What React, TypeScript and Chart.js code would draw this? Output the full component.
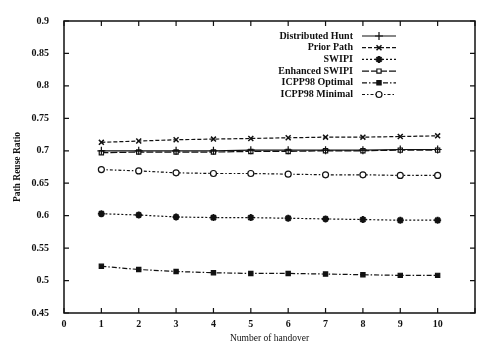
import React, { useEffect, useRef } from 'react';
import { Chart, registerables } from 'chart.js';
import { drawPoint } from 'chart.js/helpers';

Chart.register(...registerables);

const handovers = [1, 2, 3, 4, 5, 6, 7, 8, 9, 10];
const seriesLabels = ['Distributed Hunt', 'Prior Path', 'SWIPI', 'Enhanced SWIPI', 'ICPP98 Optimal', 'ICPP98 Minimal'];
const distributedHunt = [0.700, 0.700, 0.700, 0.700, 0.701, 0.701, 0.701, 0.701, 0.702, 0.702];
const priorPath = [0.713, 0.715, 0.717, 0.718, 0.719, 0.720, 0.721, 0.721, 0.722, 0.723];
const swipi = [0.603, 0.601, 0.598, 0.597, 0.597, 0.596, 0.595, 0.594, 0.593, 0.593];
const enhancedSwipi = [0.697, 0.698, 0.698, 0.698, 0.699, 0.699, 0.700, 0.700, 0.701, 0.701];
const icppOptimal = [0.522, 0.517, 0.514, 0.512, 0.511, 0.511, 0.510, 0.509, 0.508, 0.508];
const icppMinimal = [0.671, 0.669, 0.666, 0.665, 0.665, 0.664, 0.663, 0.663, 0.662, 0.662];
const xTitle = 'Number of handover';
const yTitle = 'Path Reuse Ratio';

const FONT = '"Liberation Serif", "DejaVu Serif", serif';
const INK = '#111';

const styles = [
  { pointStyle: 'cross', dash: [], fill: INK, radius: 4, bw: 1.2 },
  { pointStyle: 'crossRot', dash: [4, 2], fill: INK, radius: 3.5, bw: 1.5 },
  { pointStyle: 'star', dash: [2, 2], fill: INK, radius: 3.5, bw: 2 },
  { pointStyle: 'rect', dash: [7, 2], fill: '#fff', radius: 3, bw: 1.2 },
  { pointStyle: 'rect', dash: [5, 2, 1.5, 2], fill: INK, radius: 3, bw: 1.2 },
  { pointStyle: 'circle', dash: [3, 2, 1.5, 2], fill: '#fff', radius: 3, bw: 1.2 },
];
const seriesValues = [distributedHunt, priorPath, swipi, enhancedSwipi, icppOptimal, icppMinimal];

const framePlugin = {
  id: 'frame',
  afterDraw(chart: any) {
    const { ctx, chartArea: a, scales } = chart;
    ctx.save();
    ctx.strokeStyle = INK;
    ctx.lineWidth = 1.5;
    ctx.setLineDash([]);
    ctx.strokeRect(a.left, a.top, a.right - a.left, a.bottom - a.top);
    ctx.lineWidth = 1.2;
    const tl = 5;
    scales.x.ticks.forEach((t: any) => {
      const px = scales.x.getPixelForValue(t.value);
      ctx.beginPath();
      ctx.moveTo(px, a.bottom); ctx.lineTo(px, a.bottom - tl);
      ctx.moveTo(px, a.top); ctx.lineTo(px, a.top + tl);
      ctx.stroke();
    });
    scales.y.ticks.forEach((t: any) => {
      const py = scales.y.getPixelForValue(t.value);
      ctx.beginPath();
      ctx.moveTo(a.left, py); ctx.lineTo(a.left + tl, py);
      ctx.moveTo(a.right, py); ctx.lineTo(a.right - tl, py);
      ctx.stroke();
    });
    // legend
    const textRight = a.right - 122;
    const lineStart = a.right - 113;
    const lineEnd = a.right - 79;
    const y0 = a.top + 15;
    const step = 11.7;
    ctx.font = `bold 10px ${FONT}`;
    ctx.textAlign = 'right';
    ctx.textBaseline = 'middle';
    chart.data.datasets.forEach((ds: any, i: number) => {
      const y = y0 + i * step;
      ctx.fillStyle = INK;
      ctx.fillText(ds.label, textRight, y);
      ctx.strokeStyle = INK;
      ctx.lineWidth = 1.2;
      ctx.setLineDash(ds.borderDash || []);
      ctx.beginPath();
      ctx.moveTo(lineStart, y); ctx.lineTo(lineEnd, y);
      ctx.stroke();
      ctx.setLineDash([]);
      ctx.fillStyle = ds.pointBackgroundColor;
      ctx.strokeStyle = INK;
      ctx.lineWidth = ds.pointBorderWidth;
      drawPoint(ctx, { pointStyle: ds.pointStyle, radius: ds.pointRadius, rotation: 0, borderWidth: ds.pointBorderWidth } as any, (lineStart + lineEnd) / 2, y);
    });
    ctx.restore();
  },
};

export default function App() {
  const ref = useRef<HTMLCanvasElement | null>(null);
  useEffect(() => {
    document.body.style.margin = '0';
    const chart = new Chart(ref.current as HTMLCanvasElement, {
      type: 'line',
      data: {
        datasets: seriesLabels.map((label, i) => ({
          label,
          data: handovers.map((x, j) => ({ x, y: seriesValues[i][j] })),
          borderColor: INK,
          borderWidth: 1.2,
          borderDash: styles[i].dash,
          pointStyle: styles[i].pointStyle as any,
          pointRadius: styles[i].radius,
          pointBorderColor: INK,
          pointBackgroundColor: styles[i].fill,
          pointBorderWidth: styles[i].bw,
          tension: 0,
          fill: false,
        })),
      },
      options: {
        animation: false,
        responsive: true,
        maintainAspectRatio: false,
        layout: { padding: { top: 8, right: 6, left: 0, bottom: 0 } },
        plugins: { legend: { display: false }, tooltip: { enabled: false } },
        scales: {
          x: {
            type: 'linear',
            min: 0,
            max: 11,
            grid: { display: false, drawTicks: false },
            border: { display: false },
            ticks: {
              stepSize: 1,
              padding: 5,
              color: INK,
              font: { family: FONT, size: 10, weight: 'bold' },
              callback: (v: any) => (v === 11 ? '' : String(v)),
            },
            title: { display: true, text: xTitle, color: INK, font: { family: FONT, size: 9.5 }, padding: { top: 0, bottom: 3 } },
            afterFit: (s: any) => { s.height = 34; },
          },
          y: {
            min: 0.45,
            max: 0.9,
            grid: { display: false, drawTicks: false },
            border: { display: false },
            ticks: {
              stepSize: 0.05,
              padding: 15,
              color: INK,
              font: { family: FONT, size: 10, weight: 'bold' },
              callback: (v: any) => String(Number(Number(v).toFixed(2))),
            },
            title: { display: true, text: yTitle, color: INK, font: { family: FONT, size: 9.5, weight: 'bold' }, padding: { top: 12, bottom: 0 } },
            afterFit: (s: any) => { s.width = 64; },
          },
        },
      },
      plugins: [framePlugin],
    });
    return () => chart.destroy();
  }, []);
  return (
    <div style={{ position: 'fixed', left: 0, top: 0, width: 481, height: 347, background: '#fff' }}>
      <canvas ref={ref} />
    </div>
  );
}
